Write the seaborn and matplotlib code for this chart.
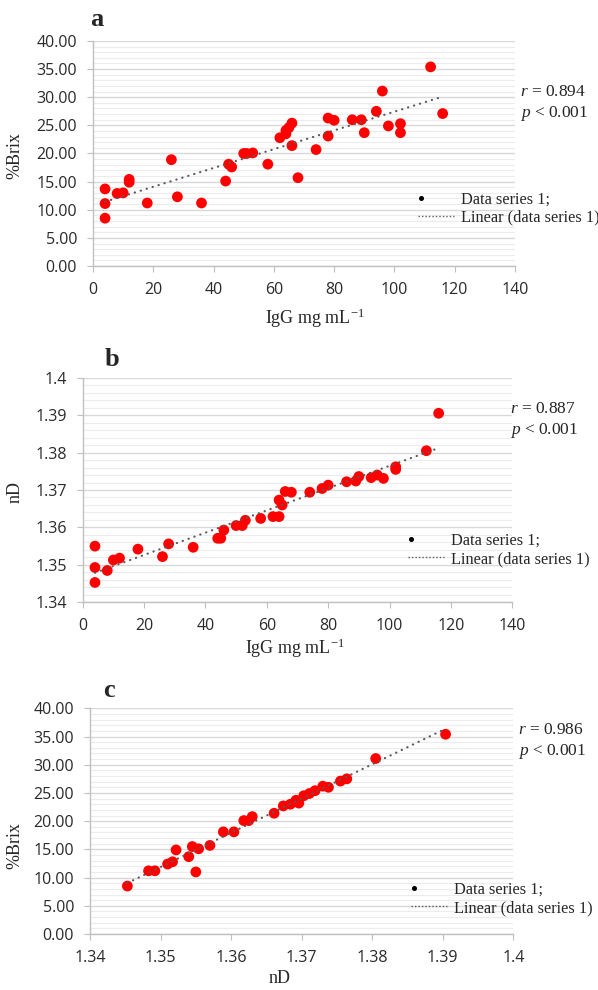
import numpy as np
import pandas as pd
import matplotlib
matplotlib.use('Agg')
import matplotlib.pyplot as plt
from matplotlib.lines import Line2D
from matplotlib.legend_handler import HandlerLine2D
from matplotlib.ticker import MultipleLocator, FuncFormatter
import seaborn as sns

# panel a: IgG (mg/mL) vs %Brix
igg_a = [4, 4, 4, 8, 10, 12, 12, 18, 26, 28, 36, 44, 45, 46, 50, 51, 53, 58, 62, 64,
         64, 65, 66, 66, 68, 74, 78, 78, 80, 86, 89, 90, 94, 96, 98, 102, 102, 112, 116]
brix_a = [13.7, 11.1, 8.5, 12.9, 13.0, 15.4, 14.9, 11.2, 18.9, 12.3, 11.2, 15.1, 18.1, 17.6,
          20.0, 20.0, 20.1, 18.1, 22.8, 24.1, 23.5, 24.6, 25.4, 21.4, 15.7, 20.7, 26.3, 23.1,
          25.9, 26.0, 26.0, 23.7, 27.5, 31.1, 24.9, 25.3, 23.7, 35.4, 27.1]

# panel b: IgG vs nD
igg_b = [4, 4, 4, 8, 10, 12, 18, 26, 28, 36, 44, 45, 46, 50, 52, 53, 58, 62, 64, 64,
         65, 66, 68, 74, 78, 80, 86, 89, 90, 94, 96, 98, 102, 102, 112, 116]
nd_b = [1.3550, 1.3493, 1.3453, 1.3485, 1.3513, 1.3518, 1.3542, 1.3522, 1.3556, 1.3547,
        1.3571, 1.3571, 1.3593, 1.3605, 1.3605, 1.3619, 1.3624, 1.3629, 1.3629, 1.3673,
        1.3660, 1.3696, 1.3694, 1.3694, 1.3704, 1.3713, 1.3722, 1.3724, 1.3736, 1.3733,
        1.3740, 1.3731, 1.3762, 1.3755, 1.3805, 1.3905]

# panel c: nD vs %Brix
nd_c = [1.3453, 1.3483, 1.3492, 1.3510, 1.3517, 1.3522, 1.3540, 1.3545, 1.3550, 1.3554,
        1.3570, 1.3589, 1.3604, 1.3618, 1.3625, 1.3630, 1.3661, 1.3674, 1.3684, 1.3692,
        1.3696, 1.3703, 1.3711, 1.3719, 1.3730, 1.3738, 1.3755, 1.3764, 1.3805, 1.3904]
brix_c = [8.5, 11.2, 11.2, 12.4, 12.8, 14.9, 13.7, 15.5, 11.0, 15.1, 15.7, 18.1, 18.1, 20.1,
          20.1, 20.8, 21.4, 22.7, 23.0, 23.7, 23.2, 24.5, 24.9, 25.4, 26.2, 26.0, 27.1, 27.5,
          31.1, 35.4]

r_labels = ['0.894', '0.887', '0.986']

sns.set_style('white')
plt.rcParams['font.family'] = ['Open Sans', 'DejaVu Sans']
plt.rcParams['mathtext.fontset'] = 'custom'
plt.rcParams['mathtext.rm'] = 'Liberation Serif'
plt.rcParams['mathtext.it'] = 'Liberation Serif:italic'

W, H = 598, 990
fig = plt.figure(figsize=(W / 100, H / 100), dpi=100)


def px_box(l, r, t, b):
    return [l / W, 1 - b / H, (r - l) / W, (b - t) / H]


class LeftDot(HandlerLine2D):
    # single marker near the left end of the handle box (line style is none)
    def get_xdata(self, legend, xdescent, ydescent, width, height, fontsize):
        m = -xdescent + 0.08 * width
        return [m - 0.05 * width, m + 0.05 * width], [m]


serif = 'Liberation Serif'


def panel(box, x, y, xlim, xstep, ylim, ystep, yminor, xfmt, yfmt):
    ax = fig.add_axes(px_box(*box))
    df = pd.DataFrame({'x': x, 'y': y})
    sns.scatterplot(data=df, x='x', y='y', ax=ax, color='#ff0000', s=60,
                    edgecolor='none', zorder=3, legend=False)
    sns.regplot(data=df, x='x', y='y', ax=ax, scatter=False, ci=None, truncate=True,
                line_kws=dict(color='#5a5a5a', lw=1.6, ls=(0, (0.1, 2.7)),
                              dash_capstyle='round', zorder=4))
    ax.set_xlim(xlim)
    ax.set_ylim(ylim)
    ax.xaxis.set_major_locator(MultipleLocator(xstep))
    ax.yaxis.set_major_locator(MultipleLocator(ystep))
    ax.yaxis.set_minor_locator(MultipleLocator(yminor))
    ax.xaxis.set_major_formatter(FuncFormatter(xfmt))
    ax.yaxis.set_major_formatter(FuncFormatter(yfmt))
    ax.set_axisbelow(True)
    ax.grid(axis='y', which='major', color='#d9d9d9', lw=1.0)
    ax.grid(axis='y', which='minor', color='#ececec', lw=0.8)
    ax.grid(axis='x', visible=False)
    ax.tick_params(which='minor', length=0)
    ax.tick_params(which='major', length=4.5, width=0.8, color='#bfbfbf', pad=7,
                   labelsize=11.5, labelcolor='#2a2a2a', left=True, bottom=True)
    for s in ['top', 'right']:
        ax.spines[s].set_visible(False)
    for s in ['left', 'bottom']:
        ax.spines[s].set_color('#c0c0c0')
        ax.spines[s].set_linewidth(1.0)
    return ax


f2 = lambda v, p: f'{v:.2f}'
fg = lambda v, p: f'{round(v, 4):g}'

ax_a = panel((93, 515, 41, 266), igg_a, brix_a, (0, 140), 20, (0, 40), 5, 1, fg, f2)
ax_b = panel((82.7, 512.3, 377.7, 602.3), igg_b, nd_b, (0, 140), 20, (1.34, 1.4), 0.01, 0.002, fg, fg)
ax_c = panel((90, 513.3, 708.3, 934), nd_c, brix_c, (1.34, 1.4), 0.01, (0, 40), 5, 1, fg, f2)

xlab = 'IgG mg mL$^{-1}$'
labels = [
    (ax_a, '%Brix', (-0.185, 0.49), xlab, (0.526, -0.231)),
    (ax_b, 'nD', (-0.158, 0.49), xlab, (0.494, -0.203)),
    (ax_c, '%Brix', (-0.177, 0.39), 'nD', (0.449, -0.199)),
]
for ax, yl, ypos, xl, xpos in labels:
    ax.set_ylabel(yl, fontfamily=serif, fontsize=13)
    ax.set_xlabel(xl, fontfamily=serif, fontsize=13)
    ax.yaxis.set_label_coords(*ypos)
    ax.xaxis.set_label_coords(*xpos)
    ax.yaxis.label.set_va('center')
    ax.xaxis.label.set_va('center')

# panel letters
for letter, (lx, ly) in zip('abc', [(96.7, 26), (111.7, 366), (109.3, 697)]):
    fig.text(lx / W, 1 - ly / H, letter, ha='center', va='baseline',
             fontfamily=serif, fontweight='bold', fontsize=19)

# r / p annotations
for r, (tx, ry, py) in zip(r_labels, [(520, 96, 116.7), (510, 413.3, 434), (518.3, 734, 755)]):
    fig.text(tx / W, 1 - ry / H, f'$r$ = {r}', ha='left', va='baseline',
             fontfamily=serif, fontsize=12.5)
    fig.text(tx / W, 1 - py / H, '$p$ < 0.001', ha='left', va='baseline',
             fontfamily=serif, fontsize=12.5)

# legends
for ax, (lx, ly) in zip([ax_a, ax_b, ax_c], [(418, 208.5), (408, 550), (411, 899)]):
    dot = Line2D([], [], ls='none', marker='o', ms=2.6, color='black')
    trend = Line2D([], [], color='#5a5a5a', lw=1.0, ls=(0, (1, 1.5)))
    ax.legend([dot, trend], ['Data series 1;', 'Linear (data series 1)'],
              loc='center left', bbox_to_anchor=(lx / W, 1 - ly / H),
              bbox_transform=fig.transFigure, frameon=False,
              prop={'family': serif, 'size': 11.8}, handlelength=2.2,
              handletextpad=0.4, labelspacing=0.15, borderpad=0, borderaxespad=0,
              handler_map={dot: LeftDot()})

fig.savefig('out.png', dpi=100)
